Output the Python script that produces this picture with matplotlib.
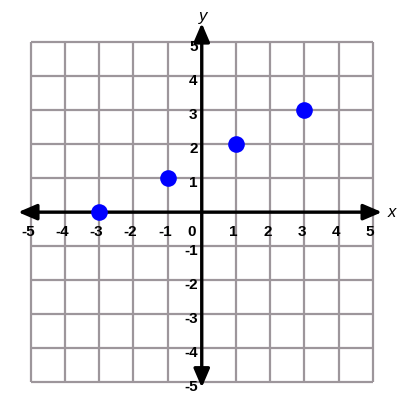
import matplotlib

matplotlib.use("Agg")
import matplotlib.pyplot as plt

# points
xs = [-3, -1, 1, 3]
ys = [0, 1, 2, 3]

ticks = [-5, -4, -3, -2, -1, 1, 2, 3, 4, 5]

GRID = "#9d969b"
FONT = ["Liberation Sans", "DejaVu Sans"]

fig = plt.figure(figsize=(3.98, 3.94), dpi=100)
ax = fig.add_axes([0, 0, 1, 1])
ax.set_xlim(-5.9, 5.74)
ax.set_ylim(-5.34, 6.23)
ax.axis("off")

# grid, only inside the -5..5 square
for t in range(-5, 6):
    ax.plot([t, t], [-5, 5], color=GRID, lw=1.6, zorder=1, solid_capstyle="butt")
    ax.plot([-5, 5], [t, t], color=GRID, lw=1.6, zorder=1, solid_capstyle="butt")

# axes with arrows at both ends
arrow = dict(arrowstyle="<|-|>,head_length=0.7,head_width=0.3", lw=2.4,
             color="black", shrinkA=0, shrinkB=0, mutation_scale=16)
ax.annotate("", xy=(5.27, 0), xytext=(-5.37, 0), arrowprops=arrow, zorder=2)
ax.annotate("", xy=(0, 5.55), xytext=(0, -5.15), arrowprops=arrow, zorder=2)

ax.text(5.55, 0, "x", fontsize=12, style="italic", family=FONT,
        ha="center", va="center")
ax.text(0.05, 5.75, "y", fontsize=12, style="italic", family=FONT,
        ha="center", va="center")

# tick labels
for t in ticks:
    ax.text(t - 0.08, -0.58, str(t), fontsize=11, fontweight="bold", family=FONT,
            ha="center", va="center")
    ax.text(-0.12, t - 0.14, str(t), fontsize=11, fontweight="bold", family=FONT,
            ha="right", va="center")
ax.text(-0.3, -0.58, "0", fontsize=11, fontweight="bold", family=FONT,
        ha="center", va="center")

ax.plot(xs, ys, "o", color="#0000ff", markersize=12, markeredgewidth=0, zorder=3)

fig.savefig("out.png", dpi=100)
